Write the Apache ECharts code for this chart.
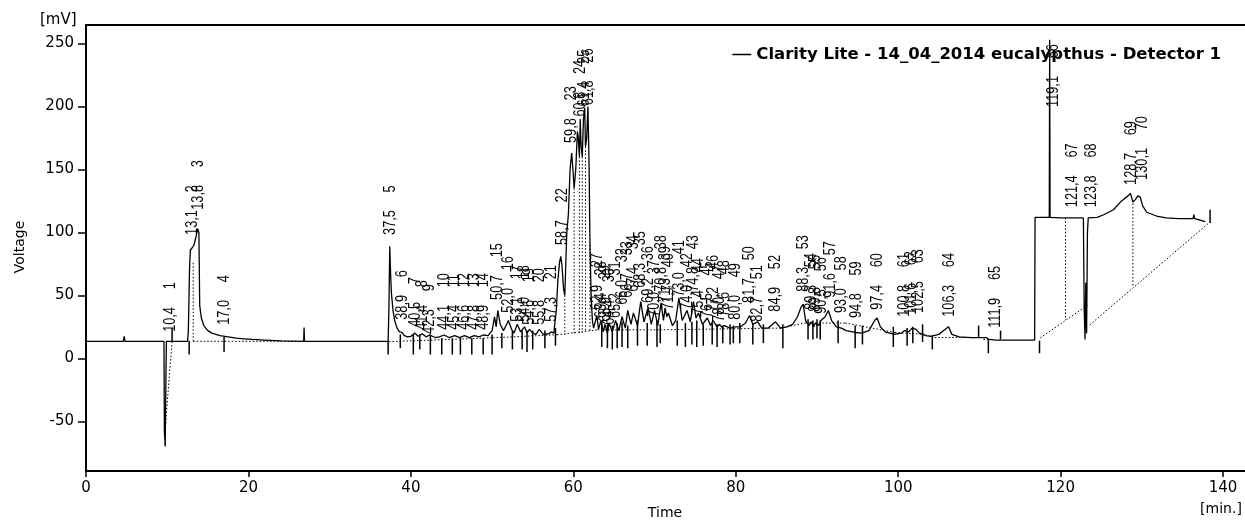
<!DOCTYPE html>
<html>
<head>
<meta charset="utf-8">
<title>Clarity Lite - 14_04_2014 eucalypthus</title>
<script src="https://cdn.jsdelivr.net/npm/echarts@6.0.0/dist/echarts.min.js"></script>
<style>
  html, body { margin: 0; padding: 0; background: #fff; }
  #main { width: 1245px; height: 520px; }
</style>
</head>
<body>
<div id="main"></div>
<script>
// detector signal [min, mV]
var traceEarly = [
  [0, 13.5], [4.6, 13.5], [4.7, 17.5], [4.8, 13.5], [9.6, 13.5], [9.65, -58], [9.75, -70], [9.85, -10], [9.9, 13.5],
  [12.5, 13.5], [12.6, 21], [12.75, 72], [12.85, 86], [13.1, 88], [13.3, 90], [13.5, 91], [13.6, 98], [13.75, 103],
  [13.9, 100], [14.0, 42], [14.2, 32], [14.5, 26], [15.0, 22], [15.5, 20], [16.5, 18], [17.5, 17], [18.5, 16],
  [19.5, 15.5], [20.5, 15], [22, 14.5], [24, 13.8], [26.8, 13.5], [26.85, 24.5], [26.9, 13.5], [37.2, 13.5]
];
var traceMiddle = [
  [37.3, 41], [37.4, 89], [37.5, 68], [37.6, 52], [37.8, 38], [38.0, 30], [38.3, 24], [38.6, 21], [38.9, 20.5],
  [39.2, 18], [39.6, 17], [40.0, 17.5], [40.5, 20], [40.9, 17.5], [41.4, 19.5], [41.9, 17], [42.3, 18.5], [43.0, 16.5],
  [43.5, 17], [44.1, 18.5], [44.7, 16.5], [45.4, 18], [46.0, 16.5], [46.6, 18], [47.2, 16.5], [47.8, 18], [48.4, 17],
  [48.9, 18.5], [49.5, 18], [50.0, 22], [50.3, 33], [50.5, 25], [50.7, 38], [51.0, 27], [51.4, 22], [51.8, 27],
  [52.0, 30], [52.4, 23], [52.7, 20], [53.1, 27], [53.5, 21], [54.0, 25], [54.3, 20], [54.6, 23], [55.0, 20],
  [55.4, 19], [55.8, 23], [56.3, 19], [57.0, 19.5], [57.3, 21], [57.6, 20], [57.9, 38], [58.1, 62], [58.3, 76],
  [58.45, 81], [58.6, 74], [58.8, 55], [58.95, 50], [59.2, 100], [59.4, 115], [59.6, 150], [59.8, 163], [59.95, 150],
  [60.1, 135], [60.3, 150], [60.5, 180], [60.6, 176], [60.75, 160], [60.85, 190], [60.95, 170], [61.1, 160],
  [61.25, 190], [61.4, 199], [61.5, 168], [61.65, 175], [61.8, 200], [61.95, 150], [62.05, 90], [62.2, 48], [62.35, 30],
  [62.5, 24], [62.9, 34], [63.1, 23], [63.4, 30], [63.7, 21], [63.9, 27], [64.2, 20], [64.4, 28], [64.8, 21],
  [65.2, 30], [65.6, 22], [66.0, 33], [66.4, 24], [66.7, 38], [67.1, 27], [67.4, 36], [67.9, 26], [68.3, 45],
  [68.7, 29], [69.2, 40], [69.6, 27], [70.0, 38], [70.4, 26], [70.8, 44], [71.1, 30], [71.3, 40], [71.5, 33],
  [71.7, 36], [72.2, 26], [72.6, 30], [73.0, 48], [73.4, 30], [74.0, 38], [74.4, 29], [74.8, 45], [75.1, 32],
  [75.4, 36], [75.9, 27], [76.5, 32], [76.9, 26], [77.2, 30], [77.7, 25], [78.0, 27], [78.3, 24.5], [78.6, 26],
  [79.3, 24], [80.0, 25], [80.6, 25], [81.2, 28], [81.7, 34], [82.1, 27], [82.7, 29], [83.2, 24], [84.0, 24],
  [84.9, 29], [85.5, 24], [86.3, 25], [87.0, 27], [87.6, 33], [88.0, 40], [88.3, 43], [88.6, 30], [89.0, 26],
  [89.3, 29], [89.6, 25], [89.8, 28], [90.2, 26], [90.5, 30], [91.0, 33], [91.4, 38], [91.8, 30], [92.4, 25],
  [93.0, 24], [93.6, 22], [94.4, 21], [94.8, 20.5], [95.5, 20], [96.4, 22], [97.1, 30], [97.4, 32], [97.8, 25],
  [98.4, 21], [99.5, 19], [100.4, 20], [100.8, 22], [101.3, 21], [101.7, 24], [102.2, 23], [102.6, 20], [103.4, 18],
  [104.0, 17.5], [105.0, 19], [105.8, 23], [106.2, 25], [106.6, 19], [107.5, 17], [109, 16.5], [110.8, 16.5],
  [111.2, 15], [112, 14.5]
];
var traceLate = [
  [116.8, 14.5], [116.85, 112], [118.6, 112], [118.65, 253], [118.7, 112], [120, 111.5], [122.8, 111.5], [122.9, 40],
  [123.0, 15], [123.1, 60], [123.2, 20], [123.3, 100], [123.4, 111.5], [124.5, 112], [125.3, 114], [126.5, 118],
  [127.5, 125], [128.3, 129], [128.6, 131], [128.9, 124], [129.2, 126], [129.5, 129], [129.8, 128], [130.1, 121],
  [130.6, 116], [131.8, 113], [133, 111.5], [134.5, 111], [136.3, 111], [136.4, 114], [136.5, 111], [137.8, 108.5]
];

// peak table: retention time [min] and top of the peak label [mV]
var peakTimes = [
  10.4, 13.1, 13.8, 17.0, 37.5, 38.9, 40.5, 41.4, 42.3, 44.1, 45.4, 46.6, 47.8, 48.9, 50.7, 52.0, 53.1, 54.0,
  54.6, 55.8, 57.3, 58.7, 59.8, 60.8, 61.4, 61.8, 62.9, 63.4, 63.9, 64.4, 65.2, 66.0, 66.7, 67.4, 68.3, 69.2,
  70.0, 70.8, 71.3, 71.7, 73.0, 74.0, 74.8, 75.4, 76.5, 77.2, 78.0, 78.6, 80.0, 81.7, 82.7, 84.9, 88.3, 89.3,
  89.8, 90.5, 91.6, 93.0, 94.8, 97.4, 100.8, 101.6, 102.5, 106.3, 111.9, 119.1, 121.4, 123.8, 128.7, 130.1
];
var peakTops = [
  21, 98, 118, 26.6, 98, 30.6, 25, 22.6, 19.4, 22.6, 22.6, 22.6, 22.6, 22.6, 46.4, 36.1, 29, 29,
  26.6, 26.6, 29, 90, 171, 192, 200, 201, 38.5, 32, 29, 26.6, 32, 42.5, 48, 52.8, 56, 44,
  33, 52.8, 44, 38.5, 48.8, 38.5, 52.8, 34.5, 32, 37, 29, 33, 30.6, 44, 29, 37, 52.8, 38.5,
  37, 35.3, 48, 36, 32, 38.5, 33, 34.5, 36, 33, 24.2, 199.6, 120, 120, 137.7, 141.7
];

// integration marks: [min, top mV, bottom mV]
var peakMarks = [
  [10.6, 24, 13.5], [12.7, 14, 3], [17.0, 17, 5], [37.2, 14, 3], [38.7, 19, 8], [40.3, 19, 3], [41.1, 19, 7],
  [42.4, 19, 3], [43.8, 16, 3], [45.1, 16, 3], [46.1, 16, 3], [47.5, 16, 3], [48.9, 16, 3], [50.0, 19, 3],
  [51.2, 20, 8], [52.5, 22, 7], [53.7, 22, 7], [54.3, 22, 5], [55.0, 22, 7], [56.5, 22, 8], [57.8, 24, 10],
  [63.5, 29, 9], [64.2, 27, 8], [64.8, 26, 7], [65.4, 28, 8], [66.0, 29, 9], [66.7, 26, 8], [67.9, 30, 10],
  [69.1, 28, 10], [70.3, 30, 9], [70.7, 27, 12], [72.8, 30, 10], [73.8, 28, 9], [74.6, 29, 11], [75.2, 30, 9],
  [76.0, 27, 10], [77.1, 28, 11], [77.7, 27, 9], [78.4, 26, 12], [79.3, 27, 11], [79.7, 26, 12], [80.5, 28, 12],
  [82.1, 28, 11], [83.4, 27, 12], [85.8, 27, 8], [88.9, 31, 15], [89.5, 30, 15], [90.0, 31, 16], [90.4, 30, 15],
  [92.6, 30, 12], [94.7, 26, 8], [95.6, 26, 11], [99.4, 25, 9], [101.1, 24, 10], [101.8, 25, 12], [103.0, 27, 13],
  [104.2, 18, 7], [109.9, 26, 17], [111.1, 15, 4], [112.6, 22, 15], [117.4, 14, 4], [138.4, 118, 107.5]
];

// baselines and drop lines: [min1, mV1, min2, mV2]
var baselines = [
  [9.7, -60, 10.6, 13.5], [13.2, 13.5, 27.0, 13.5], [13.2, 13.5, 13.2, 77], [37.3, 13.2, 50.1, 16.3],
  [50.1, 16.3, 58.0, 18.7], [58.0, 18.7, 63.0, 22.6], [63.0, 22.6, 70.7, 22.6], [70.7, 22.6, 85.5, 24],
  [85.5, 24, 88.5, 28], [88.5, 28, 93.5, 28], [93.5, 28, 99.6, 20.5], [99.6, 20.5, 103.5, 19],
  [104.5, 16.5, 109.8, 16.5], [110.5, 15, 111.5, 15], [117.5, 16.3, 123.4, 42.5], [123.6, 26.6, 138.4, 108.3],
  [120.6, 111.5, 120.6, 30.5], [128.9, 125.8, 128.9, 56.7], [58.95, 50, 58.95, 18.9], [60.1, 135, 60.1, 19.5],
  [60.75, 160, 60.75, 20], [61.1, 160, 61.1, 20.4], [61.5, 168, 61.5, 20.8], [62.05, 90, 62.05, 21.4]
];

var xTicks = [0, 20, 40, 60, 80, 100, 120, 140];
var yTicks = [-50, 0, 50, 100, 150, 200, 250];

var traceName = 'Clarity Lite - 14_04_2014 eucalypthus - Detector 1';
var trace = traceEarly.concat(traceMiddle, traceLate);

var myChart = echarts.init(document.getElementById('main'));

var option = {
  animation: false,
  backgroundColor: '#fff',
  textStyle: { fontFamily: 'DejaVu Sans' },
  grid: { left: 86, right: 0, top: 25, bottom: 49, containLabel: false },
  legend: {
    data: [traceName],
    icon: 'rect',
    right: 19,
    top: 41,
    itemWidth: 19,
    itemHeight: 1.5,
    itemGap: 8,
    textStyle: { fontFamily: 'DejaVu Sans', fontWeight: 'bold', fontSize: 16.5, color: '#000' }
  },
  visualMap: {
    type: 'piecewise',
    show: false,
    dimension: 0,
    seriesIndex: 0,
    pieces: [
      { lt: 9.62, color: '#8a8a8a' },
      { gte: 9.62, lt: 27.2, color: '#000' },
      { gte: 27.2, lt: 37.25, color: '#8a8a8a' },
      { gte: 37.25, lt: 112.5, color: '#000' },
      { gte: 112.5, lt: 118.6, color: '#8a8a8a' },
      { gte: 118.6, color: '#000' }
    ]
  },
  xAxis: [{
    type: 'value',
    min: 0,
    max: 142.7,
    splitLine: { show: false },
    axisLine: { onZero: false, lineStyle: { color: '#000', width: 2 } },
    axisTick: { length: 6, customValues: xTicks, lineStyle: { color: '#000', width: 1.5 } },
    axisLabel: { margin: 10, fontSize: 15, color: '#000', fontFamily: 'DejaVu Sans', customValues: xTicks }
  }, {
    type: 'value',
    position: 'top',
    min: 0,
    max: 142.7,
    splitLine: { show: false },
    axisLine: { onZero: false, lineStyle: { color: '#000', width: 2 } },
    axisTick: { show: false },
    axisLabel: { show: false }
  }],
  yAxis: {
    type: 'value',
    min: -89.5,
    max: 264.7,
    splitLine: { show: false },
    axisLine: { show: true, onZero: false, lineStyle: { color: '#000', width: 2 } },
    axisTick: { show: true, length: 8, customValues: yTicks, lineStyle: { color: '#000', width: 1.5 } },
    axisLabel: { margin: 12, fontSize: 15, color: '#000', fontFamily: 'DejaVu Sans', customValues: yTicks }
  },
  graphic: [
    { type: 'text', left: 40, top: 13, style: { text: '[mV]', font: '15px "DejaVu Sans"', fill: '#000' } },
    { type: 'text', x: 20, y: 247, rotation: Math.PI / 2,
      style: { text: 'Voltage', font: '14px "DejaVu Sans"', fill: '#000', textAlign: 'center', textVerticalAlign: 'middle' } },
    { type: 'text', x: 665, y: 513,
      style: { text: 'Time', font: '14px "DejaVu Sans"', fill: '#000', textAlign: 'center', textVerticalAlign: 'middle' } },
    { type: 'text', x: 1221, y: 509,
      style: { text: '[min.]', font: '14px "DejaVu Sans"', fill: '#000', textAlign: 'center', textVerticalAlign: 'middle' } }
  ],
  series: [{
    name: traceName,
    type: 'line',
    data: trace,
    symbol: 'none',
    sampling: false,
    lineStyle: { width: 1.3, color: '#000' },
    itemStyle: { color: '#000' },
    z: 3
  }, {
    name: 'baseline',
    type: 'custom',
    data: baselines,
    encode: { x: [0, 2], y: [1, 3] },
    silent: true,
    z: 2,
    renderItem: function (params, api) {
      var a = api.coord([api.value(0), api.value(1)]);
      var b = api.coord([api.value(2), api.value(3)]);
      return {
        type: 'line',
        shape: { x1: a[0], y1: a[1], x2: b[0], y2: b[1] },
        style: { stroke: '#000', lineWidth: 1, lineDash: [1.5, 2] }
      };
    }
  }, {
    name: 'marks',
    type: 'custom',
    data: peakMarks,
    encode: { x: 0, y: [1, 2] },
    silent: true,
    z: 4,
    renderItem: function (params, api) {
      var a = api.coord([api.value(0), api.value(1)]);
      var b = api.coord([api.value(0), api.value(2)]);
      return {
        type: 'line',
        shape: { x1: a[0], y1: a[1], x2: b[0], y2: b[1] },
        style: { stroke: '#000', lineWidth: 1.5 }
      };
    }
  }, {
    // rotated, condensed peak labels: "time     number"
    name: 'peaks',
    type: 'custom',
    data: peakTimes.map(function (t, i) { return [t, peakTops[i], i + 1]; }),
    encode: { x: 0, y: 1 },
    silent: true,
    z: 5,
    renderItem: function (params, api) {
      var p = api.coord([api.value(0), api.value(1)]);
      var txt = api.value(0).toFixed(1).replace('.', ',') + '     ' + api.value(2);
      return {
        type: 'text',
        x: p[0],
        y: p[1],
        rotation: Math.PI / 2,
        scaleX: 0.75,
        style: {
          text: txt,
          font: '17px "Liberation Sans"',
          fill: '#000',
          textAlign: 'left',
          textVerticalAlign: 'middle'
        }
      };
    }
  }]
};

myChart.setOption(option);
</script>
</body>
</html>
